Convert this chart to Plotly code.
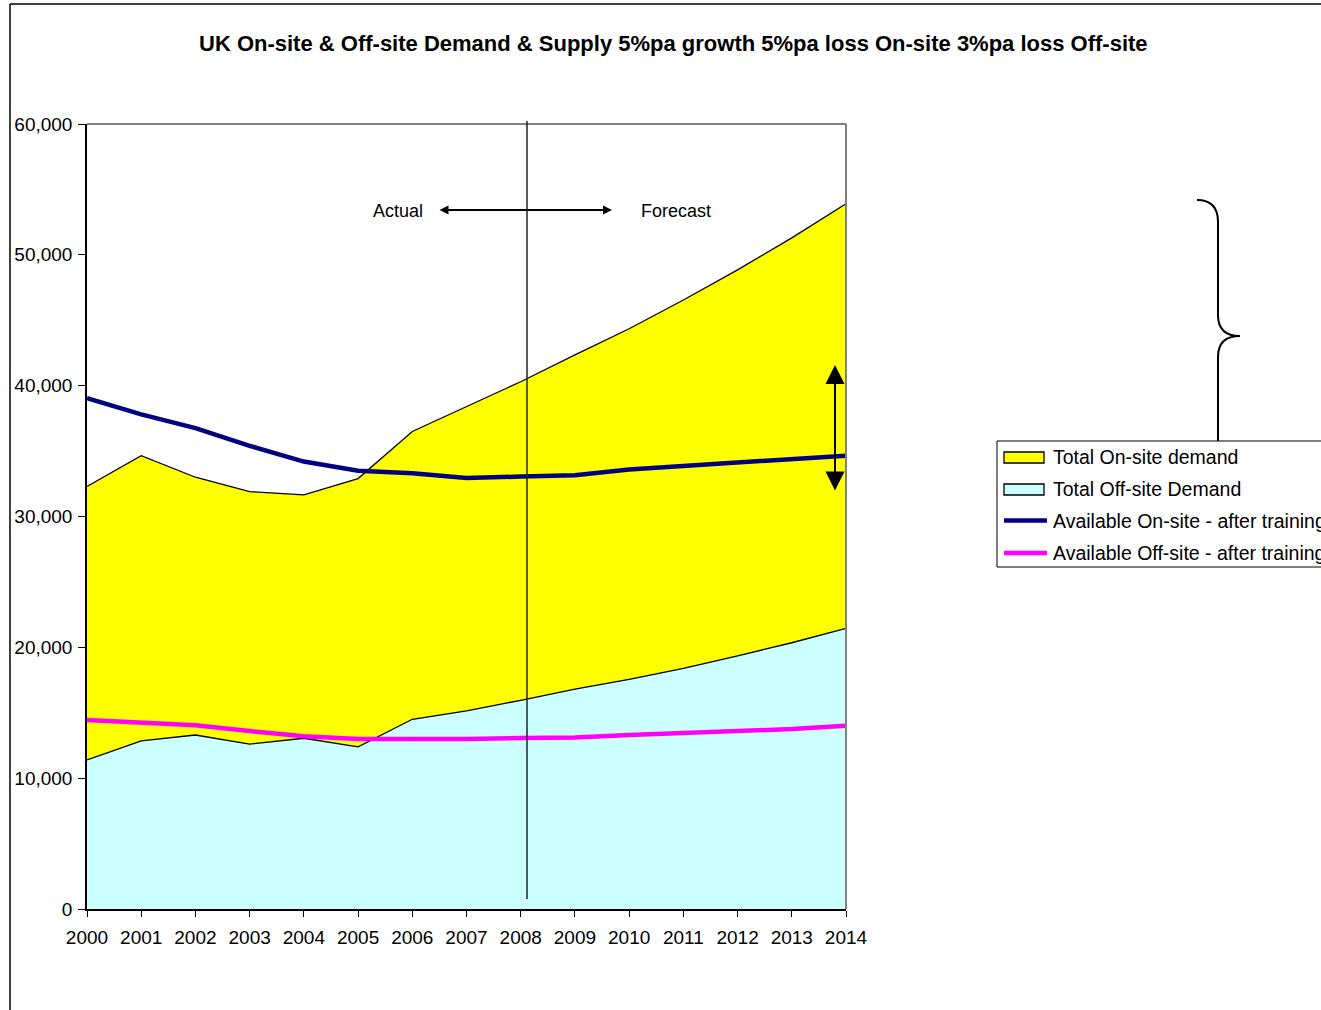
import plotly.graph_objects as go

years = list(range(2000, 2015))
onsite_demand = [32300, 34650, 33000, 31900, 31650, 32900, 36500, 38400, 40300, 42350, 44350, 46550, 48850, 51300, 53900]
offsite_demand = [11400, 12850, 13300, 12600, 13050, 12400, 14500, 15150, 15950, 16800, 17550, 18400, 19350, 20350, 21450]
onsite_available = [39050, 37800, 36750, 35400, 34200, 33500, 33300, 32950, 33050, 33150, 33600, 33850, 34100, 34400, 34650]
offsite_available = [14450, 14250, 14050, 13600, 13200, 12990, 12970, 12990, 13070, 13100, 13300, 13430, 13620, 13750, 14000]

series_names = ["Total On-site demand", "Total Off-site Demand",
                "Available On-site - after training", "Available Off-site - after training"]

W, H = 1321, 1010
L, R, T, B = 87, 846, 124, 909
FONT = "Liberation Sans, Arial, sans-serif"

YELLOW, CYAN, NAVY, MAGENTA = "#FFFF00", "#CCFFFF", "#000080", "#FF00FF"


def px(x):
    return (x - L) / (R - L)


def py(y):
    return (B - y) / (B - T)


fig = go.Figure()
fig.add_trace(go.Scatter(x=years, y=onsite_demand, name=series_names[0], mode="lines",
                         fill="tozeroy", fillcolor=YELLOW, line=dict(color="black", width=1.3)))
fig.add_trace(go.Scatter(x=years, y=offsite_demand, name=series_names[1], mode="lines",
                         fill="tozeroy", fillcolor=CYAN, line=dict(color="black", width=1.3)))
fig.add_trace(go.Scatter(x=years, y=onsite_available, name=series_names[2], mode="lines",
                         line=dict(color=NAVY, width=4.5)))
fig.add_trace(go.Scatter(x=years, y=offsite_available, name=series_names[3], mode="lines",
                         line=dict(color=MAGENTA, width=4.5)))

shapes = [
    # outer chart border (top and left)
    dict(type="line", xref="paper", yref="paper", x0=px(10), y0=py(4), x1=px(1330), y1=py(4),
         line=dict(color="black", width=1.5)),
    dict(type="line", xref="paper", yref="paper", x0=px(10), y0=py(4), x1=px(10), y1=py(1015),
         line=dict(color="black", width=1.5)),
    # plot area border (top, right)
    dict(type="line", xref="paper", yref="paper", x0=0, y0=1, x1=1, y1=1, line=dict(color="#808080", width=2)),
    dict(type="line", xref="paper", yref="paper", x0=1, y0=0, x1=1, y1=1, line=dict(color="#808080", width=2)),
    # actual / forecast divider
    dict(type="line", xref="paper", yref="paper", x0=px(527), y0=py(121), x1=px(527), y1=py(899),
         line=dict(color="#222222", width=1.5), layer="above"),
]

# curly brace
brace = "M {0},{1} Q {2},{1} {2},{3} L {2},{4} Q {2},{5} {6},{5} Q {2},{5} {2},{7} L {2},{8}".format(
    px(1197), py(200), px(1218), py(222), py(315), py(336), px(1240), py(357), py(441))
shapes.append(dict(type="path", xref="paper", yref="paper", path=brace, line=dict(color="black", width=2)))

# legend box
shapes.append(dict(type="rect", xref="paper", yref="paper", x0=px(997), y0=py(441), x1=px(1340), y1=py(567),
                   line=dict(color="black", width=1), fillcolor="white"))
shapes.append(dict(type="rect", xref="paper", yref="paper", x0=px(1004), y0=py(452), x1=px(1044), y1=py(463),
                   line=dict(color="black", width=1.3), fillcolor=YELLOW))
shapes.append(dict(type="rect", xref="paper", yref="paper", x0=px(1004), y0=py(484), x1=px(1044), y1=py(495),
                   line=dict(color="black", width=1.3), fillcolor=CYAN))
shapes.append(dict(type="line", xref="paper", yref="paper", x0=px(1004), y0=py(520.5), x1=px(1047), y1=py(520.5),
                   line=dict(color=NAVY, width=4.5)))
shapes.append(dict(type="line", xref="paper", yref="paper", x0=px(1004), y0=py(553), x1=px(1047), y1=py(553),
                   line=dict(color=MAGENTA, width=4.5)))

annotations = [
    dict(text="<b>UK On-site &amp; Off-site Demand &amp; Supply 5%pa growth 5%pa loss On-site 3%pa loss Off-site</b>",
         xref="paper", yref="paper", x=px(673), y=py(43), showarrow=False,
         font=dict(family=FONT, size=22, color="black"), xanchor="center", yanchor="middle"),
    dict(text="Actual", xref="paper", yref="paper", x=px(398), y=py(211), showarrow=False,
         xanchor="center", yanchor="middle",
         font=dict(family=FONT, size=18, color="black")),
    dict(text="Forecast", xref="paper", yref="paper", x=px(676), y=py(211), showarrow=False,
         xanchor="center", yanchor="middle",
         font=dict(family=FONT, size=18, color="black")),
    # horizontal double arrow
    dict(xref="paper", yref="paper", x=px(612), y=py(210), ax=438 - 612, ay=0, axref="pixel", ayref="pixel",
         text="", showarrow=True, arrowhead=2, startarrowhead=2, arrowside="end+start",
         arrowsize=1, startarrowsize=1, arrowwidth=1.8, arrowcolor="black"),
    # vertical double arrow
    dict(xref="paper", yref="paper", x=px(835), y=py(365), ax=0, ay=492 - 365, axref="pixel", ayref="pixel",
         text="", showarrow=True, arrowhead=2, startarrowhead=2, arrowside="end+start",
         arrowsize=1.9, startarrowsize=1.9, arrowwidth=2, arrowcolor="black"),
]

for i, name in enumerate(series_names):
    annotations.append(dict(text=name, xref="paper", yref="paper", x=px(1051), y=py(457 + 32 * i),
                            xanchor="left", yanchor="middle", showarrow=False,
                            font=dict(family=FONT, size=19.5, color="black")))

fig.update_layout(
    width=W, height=H,
    margin=dict(l=L, r=W - R, t=T, b=H - B, autoexpand=False),
    paper_bgcolor="white", plot_bgcolor="white",
    font=dict(family=FONT, size=19, color="black"),
    showlegend=False,
    shapes=shapes, annotations=annotations,
    xaxis=dict(range=[2000, 2014], tickvals=years, ticktext=[str(y) for y in years],
               showgrid=False, zeroline=False, showline=True, linecolor="black", linewidth=1.5,
               ticks="outside", ticklen=6, tickcolor="black", tickwidth=1, ticklabelstandoff=4,
               tickfont=dict(family=FONT, size=19, color="black")),
    yaxis=dict(range=[0, 60000], dtick=10000, tickformat=",",
               showgrid=False, zeroline=False, showline=True, linecolor="black", linewidth=1.5,
               ticks="outside", ticklen=7, tickcolor="black", tickwidth=1, ticklabelstandoff=2,
               tickfont=dict(family=FONT, size=19, color="black")),
)

fig.write_html("out.html", config={"displayModeBar": False},
               post_script="document.body.style.margin='0';document.body.style.overflow='hidden';")
